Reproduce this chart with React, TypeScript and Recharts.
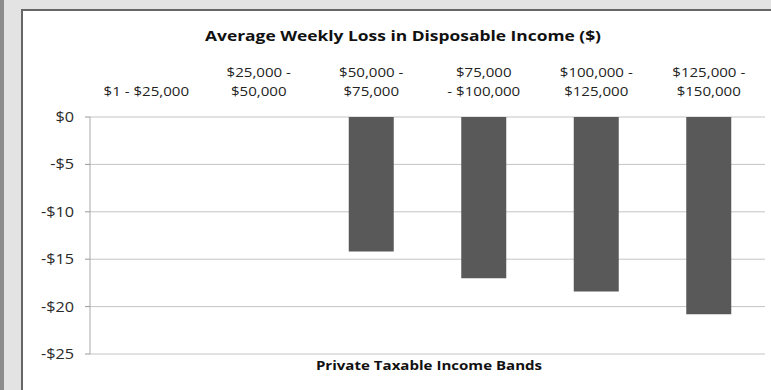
import React from 'react';
import { BarChart, Bar, XAxis, YAxis, CartesianGrid } from 'recharts';

const categories = [
  '$1 - $25,000',
  '$25,000 -\n$50,000',
  '$50,000 -\n$75,000',
  '$75,000\n- $100,000',
  '$100,000 -\n$125,000',
  '$125,000 -\n$150,000',
];
const weeklyLoss: (number | null)[] = [null, null, -14.2, -17.0, -18.4, -20.8];
const yTicks = [0, -5, -10, -15, -20, -25];
const bandEdges = [0, 1, 2, 3, 4, 5, 6];

const data = categories.map((name, i) => ({ name, loss: weeklyLoss[i] }));

const FONT = '"Open Sans", "Liberation Sans", sans-serif';
// the source picture is stretched a little sideways
const STRETCH = 1.16;

const fmtDollar = (v: number) => (v === 0 ? '$0' : `-$${Math.abs(v)}`);

const CategoryTick = (props: any) => {
  const { x, y, payload } = props;
  const lines: string[] = String(payload.value).split('\n');
  return (
    <g transform={`translate(${x},${y - 13}) scale(${STRETCH},1)`}>
      {lines.map((ln, i) => (
        <text
          key={i}
          x={0}
          y={-(lines.length - 1 - i) * 19}
          textAnchor="middle"
          fontFamily={FONT}
          fontSize={13}
          fill="#222"
        >
          {ln}
        </text>
      ))}
    </g>
  );
};

const ValueTick = (props: any) => {
  const { x, y, payload } = props;
  return (
    <g transform={`translate(${x},${y}) scale(${STRETCH},1)`}>
      <text x={0} y={0} dy="0.36em" textAnchor="end" fontFamily={FONT} fontSize={14} fill="#2a2a2a">
        {fmtDollar(payload.value)}
      </text>
    </g>
  );
};

const App: React.FC = () => {
  return (
    <div
      style={{
        position: 'absolute',
        left: 0,
        top: 0,
        width: 771,
        height: 390,
        background: '#e3e3e3',
        overflow: 'hidden',
      }}
    >
      <div style={{ position: 'absolute', left: 0, top: 0, width: 4, height: 390, background: '#8c8c8c' }} />
      <div
        style={{
          position: 'absolute',
          left: 21,
          top: 9,
          width: 780,
          height: 400,
          background: '#fff',
          borderLeft: '2px solid #666',
          borderTop: '2px solid #666',
          boxSizing: 'border-box',
        }}
      />
      <div style={{ position: 'absolute', left: 0, top: 0 }}>
        <BarChart
          width={771}
          height={390}
          data={data}
          margin={{ top: 50, right: 6, bottom: 36, left: 0 }}
          barCategoryGap="30%"
        >
          <CartesianGrid horizontal vertical={false} stroke="#c4c4c4" xAxisId="cat" />
          <XAxis
            xAxisId="edges"
            type="number"
            orientation="top"
            domain={[0, 6]}
            ticks={bandEdges}
            height={0}
            tick={false}
            tickSize={4}
            axisLine={{ stroke: '#aaa', strokeWidth: 2 }}
            tickLine={{ stroke: '#999' }}
            allowDataOverflow
          />
          <XAxis
            xAxisId="cat"
            dataKey="name"
            orientation="top"
            height={67}
            axisLine={false}
            tickLine={false}
            tick={<CategoryTick />}
            interval={0}
          />
          <YAxis
            domain={[-25, 0]}
            ticks={yTicks}
            width={90}
            tickSize={5}
            tickMargin={11}
            axisLine={{ stroke: '#aaa' }}
            tickLine={{ stroke: '#999' }}
            tick={<ValueTick />}
            allowDataOverflow
          />
          <Bar xAxisId="cat" dataKey="loss" fill="#595959" isAnimationActive={false} />
        </BarChart>
      </div>
      <svg
        width={771}
        height={390}
        style={{ position: 'absolute', left: 0, top: 0, pointerEvents: 'none' }}
      >
        <g transform={`translate(403,40.5) scale(${STRETCH},1)`}>
          <text textAnchor="middle" fontFamily={FONT} fontWeight="bold" fontSize={15} fill="#111">
            Average Weekly Loss in Disposable Income ($)
          </text>
        </g>
        <g transform={`translate(429,370) scale(${STRETCH},1)`}>
          <text textAnchor="middle" fontFamily={FONT} fontWeight="bold" fontSize={13} fill="#111">
            Private Taxable Income Bands
          </text>
        </g>
      </svg>
    </div>
  );
};

export default App;
